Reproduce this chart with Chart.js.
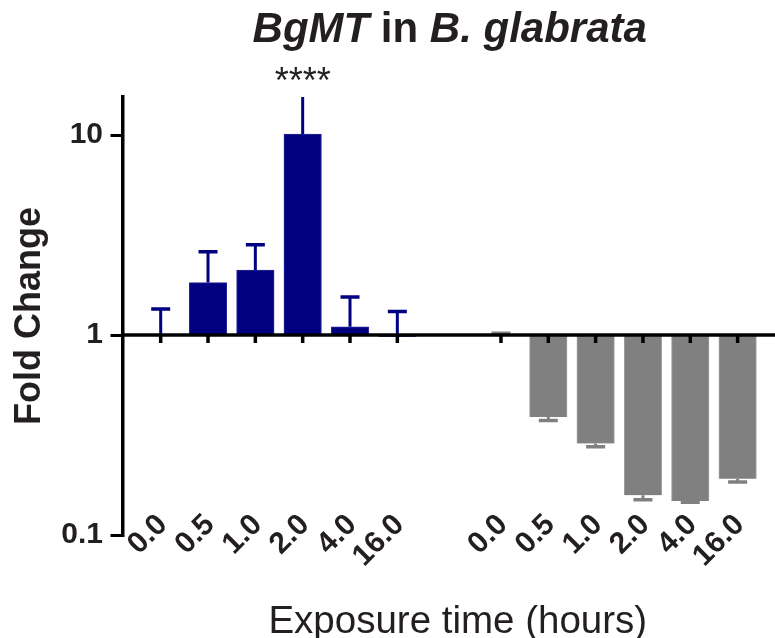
<!DOCTYPE html>
<html>
<head>
<meta charset="utf-8">
<script src="https://cdn.jsdelivr.net/npm/chart.js@4/dist/chart.umd.min.js"></script>
<style>
  html, body { margin: 0; background: #fff; }
  #wrap { width: 775px; height: 638px; }
</style>
</head>
<body>
<div id="wrap"><canvas id="c"></canvas></div>
<script>
// Exposure times, shared by both groups
const TIME_LABELS = ["0.0", "0.5", "1.0", "2.0", "4.0", "16.0"];

// Left group (navy): mean fold change and top of the error bar
const BLUE_MEAN = [1.0, 1.83, 2.11, 10.1, 1.10, 0.98];
const BLUE_ERR = [1.35, 2.61, 2.83, 16.5, 1.55, 1.31];

// Right group (grey): mean fold change and bottom of the error bar
const GRAY_MEAN = [1.0, 0.389, 0.287, 0.158, 0.148, 0.191];
const GRAY_ERR = [1.02, 0.374, 0.276, 0.150, 0.146, 0.184];

const SIGNIF = ["", "", "", "****", "", ""];

const Y_TICKS = [0.1, 1, 10];

const NAVY = "#000080";
const GREY = "#808080";
const INK = "#231f20";
const FONT = "'Liberation Sans', Arial, sans-serif";

// second group sits a little more than one empty slot after the first
const GROUP_STEP = TIME_LABELS.length + 1.19;
const positions = (g) => TIME_LABELS.map((_, i) => g * GROUP_STEP + i);
const ALL_POS = [...positions(0), ...positions(1)];
const ALL_LABELS = [...TIME_LABELS, ...TIME_LABELS];

// baseline at 1, tick marks under each bar, error bars and the asterisks
const decorations = {
  id: "decorations",
  afterDatasetsDraw(chart) {
    const {ctx, chartArea, scales} = chart;
    const y = scales.y;
    const y1 = y.getPixelForValue(1);
    ctx.save();
    ctx.beginPath();
    ctx.rect(chartArea.left, chartArea.top, chartArea.right - chartArea.left, chartArea.bottom - chartArea.top);
    ctx.clip();

    const errs = [BLUE_ERR, GRAY_ERR];
    const colors = [NAVY, GREY];
    chart.data.datasets.forEach((ds, d) => {
      const meta = chart.getDatasetMeta(d);
      meta.data.forEach((bar, i) => {
        const yEnd = y.getPixelForValue(ds.data[i].y[1]);
        const yErr = y.getPixelForValue(errs[d][i]);
        ctx.strokeStyle = colors[d];
        ctx.lineWidth = 3;
        ctx.beginPath();
        ctx.moveTo(bar.x, yEnd);
        ctx.lineTo(bar.x, yErr);
        ctx.stroke();
        ctx.lineWidth = 3.5;
        ctx.beginPath();
        ctx.moveTo(bar.x - 9.5, yErr);
        ctx.lineTo(bar.x + 9.5, yErr);
        ctx.stroke();
      });
    });
    ctx.restore();

    ctx.save();
    ctx.strokeStyle = "#000";
    ctx.lineWidth = 3.5;
    ctx.beginPath();
    ctx.moveTo(chartArea.left, y1);
    ctx.lineTo(chartArea.right, y1);
    ctx.stroke();
    ALL_POS.forEach((p) => {
      const x = scales.x.getPixelForValue(p);
      ctx.beginPath();
      ctx.moveTo(x, y1);
      ctx.lineTo(x, y1 + 8);
      ctx.stroke();
    });

    ctx.fillStyle = INK;
    ctx.font = `36px ${FONT}`;
    ctx.textAlign = "center";
    ctx.textBaseline = "alphabetic";
    SIGNIF.forEach((s, i) => {
      if (!s) return;
      ctx.fillText(s, scales.x.getPixelForValue(ALL_POS[i]), chartArea.top - 4);
    });
    ctx.restore();
  },
  afterDraw(chart) {
    const {ctx, chartArea, scales} = chart;
    ctx.save();
    ctx.fillStyle = INK;

    // x tick labels: Prism lets the rotated labels ride up over the axis
    // bottom, which Chart.js clips, so they are drawn here instead
    ctx.font = `bold 30px ${FONT}`;
    ctx.textAlign = "right";
    ctx.textBaseline = "middle";
    ALL_POS.forEach((p, i) => {
      ctx.save();
      ctx.translate(scales.x.getPixelForValue(p) + 2, chartArea.bottom - 15);
      ctx.rotate(-Math.PI / 4);
      ctx.fillText(ALL_LABELS[i], 0, 0);
      ctx.restore();
    });

    // x axis title, a bit right of the plot centre as in the original
    ctx.font = `38.5px ${FONT}`;
    ctx.textAlign = "center";
    ctx.textBaseline = "alphabetic";
    ctx.fillText("Exposure time (hours)", (chartArea.left + chartArea.right) / 2 + 9, chart.height - 5);

    // title with italic gene / species names
    const parts = [
      {text: "BgMT", italic: true},
      {text: " in ", italic: false},
      {text: "B. glabrata", italic: true},
    ];
    const fontFor = (p) => `${p.italic ? "italic " : ""}bold 42px ${FONT}`;
    ctx.textAlign = "left";
    let total = 0;
    parts.forEach((p) => { ctx.font = fontFor(p); p.w = ctx.measureText(p.text).width; total += p.w; });
    let x = (chartArea.left + chartArea.right) / 2 + 1 - total / 2;
    parts.forEach((p) => { ctx.font = fontFor(p); ctx.fillText(p.text, x, 42); x += p.w; });
    ctx.restore();
  },
};

const barDataset = (label, mean, g, color, border) => ({
  label,
  data: positions(g).map((x, i) => ({x, y: [1, mean[i]]})),
  backgroundColor: color,
  borderColor: border,
  borderWidth: 1,
  borderSkipped: "start",
  barThickness: 37.5,
  grouped: false,
});

new Chart(document.getElementById("c"), {
  type: "bar",
  data: {
    datasets: [
      barDataset("BgMT", BLUE_MEAN, 0, NAVY, "#2a2a9a"),
      barDataset("BgMT control", GRAY_MEAN, 1, GREY, "#a0a0a0"),
    ],
  },
  plugins: [decorations],
  options: {
    responsive: true,
    maintainAspectRatio: false,
    animation: false,
    events: [],
    layout: {padding: {top: 97, right: 0, bottom: 0, left: 0}},
    plugins: {legend: {display: false}, tooltip: {enabled: false}, title: {display: false}},
    scales: {
      x: {
        type: "linear",
        min: -0.807,
        max: 12.98,
        offset: false,
        afterFit: (axis) => { axis.height = 103; },
        grid: {display: false, drawTicks: false},
        border: {display: false},
        ticks: {display: false},
      },
      y: {
        type: "logarithmic",
        min: 0.1,
        max: 15.5,
        afterBuildTicks: (axis) => { axis.ticks = Y_TICKS.map((v) => ({value: v})); },
        afterFit: (axis) => { axis.width = 122.5; },
        grid: {drawOnChartArea: false, drawTicks: true, tickLength: 12, lineWidth: 3, color: "#000"},
        border: {display: true, width: 3.5, color: "#000"},
        ticks: {
          padding: 7.5,
          color: INK,
          font: {family: FONT, size: 30, weight: "bold"},
          callback: (v) => String(v),
        },
        title: {
          display: true,
          text: "Fold Change",
          color: INK,
          font: {family: FONT, size: 36, weight: "bold", lineHeight: 1},
          padding: {top: 12.5, bottom: 0},
        },
      },
    },
  },
});
</script>
</body>
</html>
